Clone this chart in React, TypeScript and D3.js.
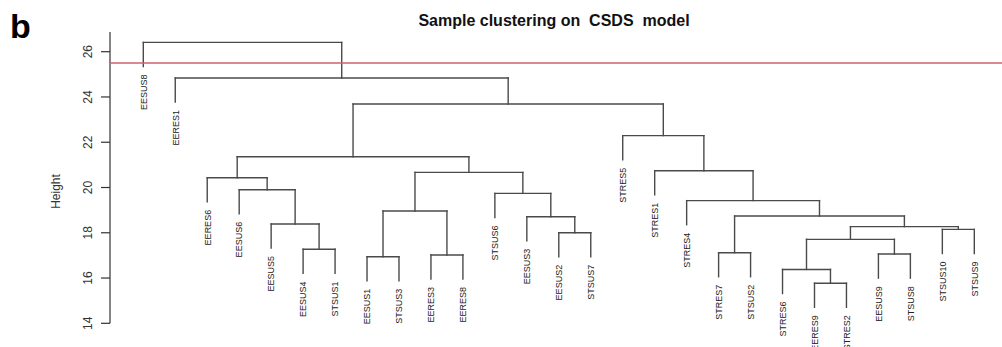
import React from "react";
import * as d3 from "d3";

// Leaf labels in dendrogram display order
const leafLabels = [
  "EESUS8", "EERES1", "EERES6", "EESUS6", "EESUS5", "EESUS4", "STSUS1",
  "EESUS1", "STSUS3", "EERES3", "EERES8", "STSUS6", "EESUS3", "EESUS2",
  "STSUS7", "STRES5", "STRES1", "STRES4", "STRES7", "STSUS2", "STRES6",
  "EERES9", "STRES2", "EESUS9", "STSUS8", "STSUS10", "STSUS9",
];

// Merge steps (R hclust convention): negative = leaf (1-based), positive = earlier merge
const mergeLeft = [-6, -5, -4, -3, -8, -10, 5, -14, -13, -12, 7, 4, -22, -21, -24, 14, -26, 16, -19, 19, -18, -17, -16, 12, -2, -1];
const mergeRight = [-7, 1, 2, 3, -9, -11, 6, -15, 8, 9, 10, 11, -23, 13, -25, 15, -27, 17, -20, 18, 20, 21, 22, 23, 24, 25];
const mergeHeight = [
  17.27, 18.39, 19.9, 20.43, 16.94, 17.02, 18.96, 18.0, 18.71, 19.74, 20.67, 21.36,
  15.77, 16.38, 17.06, 17.71, 18.15, 18.27, 17.12, 18.74, 19.42, 20.74, 22.29, 23.69,
  24.84, 26.41,
];

const yTicks = [14, 16, 18, 20, 22, 24, 26];
const cutHeight = 25.5;

const W = 1002;
const H = 347;

export default function App() {
  const x = d3.scaleLinear().domain([0, leafLabels.length - 1]).range([143.3, 974.3]);
  const y = d3.scaleLinear().domain([14, 26]).range([323.3, 51.7]);

  const hang = 0.1 * ((d3.max(mergeHeight) as number) - (d3.min(mergeHeight) as number));

  const nodeX: number[] = [];
  const segs: { x1: number; y1: number; x2: number; y2: number }[] = [];
  const leaves: { x: number; yEnd: number; label: string }[] = [];

  const childPos = (ref: number, parentH: number) => {
    if (ref < 0) {
      const i = -ref - 1;
      const lx = x(i);
      const yEnd = y(parentH - hang);
      leaves.push({ x: lx, yEnd, label: leafLabels[i] });
      return { cx: lx, cy: yEnd };
    }
    return { cx: nodeX[ref - 1], cy: y(mergeHeight[ref - 1]) };
  };

  mergeHeight.forEach((h, k) => {
    const py = y(h);
    const a = childPos(mergeLeft[k], h);
    const b = childPos(mergeRight[k], h);
    nodeX[k] = (a.cx + b.cx) / 2;
    segs.push({ x1: a.cx, y1: a.cy, x2: a.cx, y2: py });
    segs.push({ x1: b.cx, y1: b.cy, x2: b.cx, y2: py });
    segs.push({ x1: a.cx, y1: py, x2: b.cx, y2: py });
  });

  const axisX = 110;
  const font = "Liberation Sans, Arial, sans-serif";

  return (
    <svg
      width={W}
      height={H}
      style={{ position: "absolute", left: 0, top: 0, background: "#fff" }}
      fontFamily={font}
    >
      <rect width={W} height={H} fill="#fff" />
      <text x={10} y={38} fontSize={34} fontWeight="bold" fill="#000">b</text>
      <text
        x={554}
        y={25.5}
        fontSize={16}
        fontWeight="bold"
        textAnchor="middle"
        fill="#111"
        style={{ whiteSpace: "pre" }}
      >
        {"Sample clustering on  CSDS  model"}
      </text>

      {/* y axis */}
      <line x1={axisX} x2={axisX} y1={32} y2={y(14)} stroke="#333" strokeWidth={1.2} />
      {yTicks.map((t) => (
        <g key={t}>
          <line x1={axisX - 9} x2={axisX} y1={y(t)} y2={y(t)} stroke="#333" strokeWidth={1.2} />
          <text
            transform={`translate(91.5,${y(t)}) rotate(-90)`}
            fontSize={12}
            textAnchor="middle"
            fill="#333"
          >
            {t}
          </text>
        </g>
      ))}
      <text
        transform={`translate(59.5,191.5) rotate(-90)`}
        fontSize={12}
        textAnchor="middle"
        fill="#333"
      >
        Height
      </text>

      {/* dendrogram */}
      <g stroke="#4a4a4a" strokeWidth={1.4} fill="none" strokeLinecap="square">
        {segs.map((s, i) => (
          <line key={i} x1={s.x1} y1={s.y1} x2={s.x2} y2={s.y2} />
        ))}
      </g>
      {leaves.map((l) => (
        <text
          key={l.label}
          transform={`translate(${l.x + 3.3},${l.yEnd + 8}) rotate(-90)`}
          fontSize={9}
          textAnchor="end"
          fill="#222"
        >
          {l.label}
        </text>
      ))}

      {/* cut line */}
      <line x1={axisX} x2={W} y1={y(cutHeight)} y2={y(cutHeight)} stroke="#d0606c" strokeWidth={1.3} />
    </svg>
  );
}
